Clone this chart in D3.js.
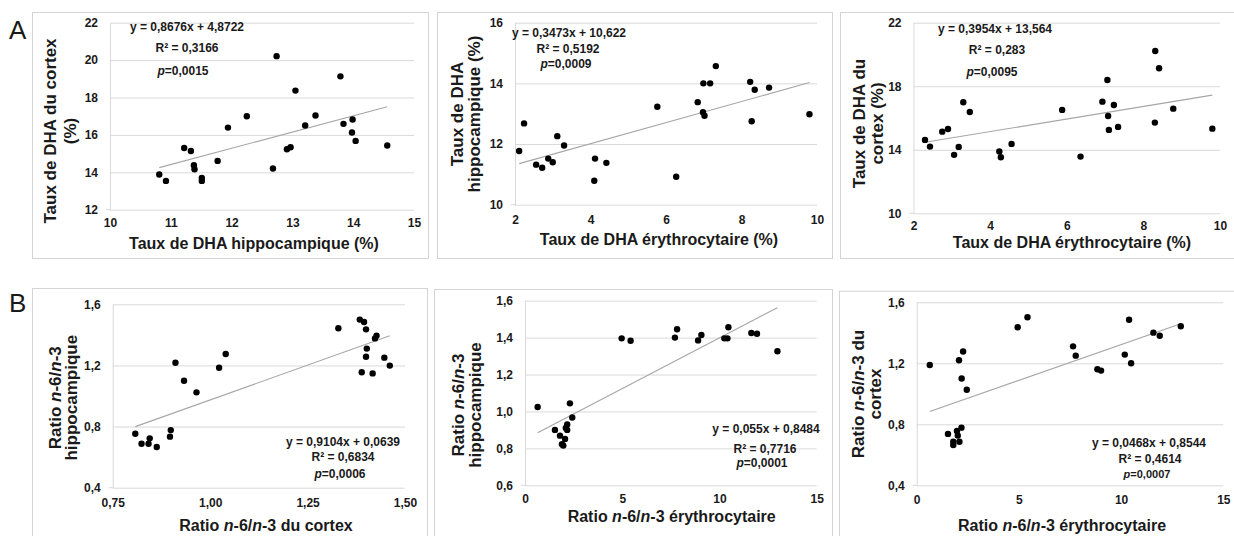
<!DOCTYPE html>
<html>
<head>
<meta charset="utf-8">
<script src="https://cdn.jsdelivr.net/npm/d3@7"></script>
<style>
	body { margin: 0; background: #fff; }
	text { font-family: "Liberation Sans", Arial, sans-serif; fill: #1a1a1a; }
</style>
</head>
<body>
<script>
// --- A : DHA (%) ---
var hippoDHA_A1 = [10.81, 10.92, 11.22, 11.33, 11.38, 11.39, 11.51, 11.51, 11.77, 11.94, 12.25, 12.68,
	12.74, 12.91, 12.97, 13.05, 13.21, 13.38, 13.79, 13.84, 13.99, 13.98, 14.04, 14.56];
var cortexDHA_A1 = [13.88, 13.54, 15.30, 15.14, 14.38, 14.16, 13.70, 13.54, 14.61, 16.39, 17.00, 14.20,
	20.21, 15.23, 15.34, 18.37, 16.50, 17.04, 19.13, 16.59, 16.82, 16.13, 15.68, 15.43];

var eryDHA_A2 = [2.11, 2.24, 2.56, 2.72, 2.88, 3.00, 3.12, 3.30, 4.10, 4.12, 4.42, 5.77,
	6.27, 6.84, 6.98, 7.02, 6.99, 7.17, 7.32, 8.23, 8.35, 8.27, 8.73, 9.80];
var hippoDHA_A2 = [11.77, 12.68, 11.32, 11.22, 11.52, 11.40, 12.26, 11.95, 10.79, 11.52, 11.38, 13.23,
	10.92, 13.38, 13.05, 12.93, 14.00, 14.00, 14.57, 14.05, 13.79, 12.75, 13.86, 12.98];

var eryDHA_A3 = [2.30, 2.43, 2.75, 2.90, 3.06, 3.18, 3.30, 3.47, 4.24, 4.28, 4.56, 5.88,
	6.36, 6.93, 7.06, 7.08, 7.10, 7.23, 7.34, 8.30, 8.31, 8.41, 8.78, 9.80];
var cortexDHA_A3 = [14.62, 14.20, 15.14, 15.31, 13.68, 14.18, 16.99, 16.38, 13.89, 13.53, 14.37, 16.51,
	13.57, 17.03, 18.39, 16.13, 15.25, 16.82, 15.44, 15.71, 20.22, 19.13, 16.59, 15.33];

// --- B : ratio n-6/n-3 ---
var cortexRatio_B1 = [0.808, 0.824, 0.842, 0.845, 0.863, 0.897, 0.899, 0.911, 0.933, 0.965, 1.023, 1.040,
	1.329, 1.384, 1.395, 1.400, 1.389, 1.400, 1.402, 1.423, 1.427, 1.417, 1.447, 1.461];
var hippoRatio_B1 = [0.753, 0.688, 0.688, 0.723, 0.666, 0.734, 0.777, 1.218, 1.100, 1.024, 1.185, 1.275,
	1.443, 1.500, 1.484, 1.436, 1.155, 1.257, 1.310, 1.377, 1.395, 1.148, 1.251, 1.199];

var eryRatio_B2 = [0.65, 1.54, 1.80, 1.90, 1.97, 2.06, 2.10, 2.17, 2.17, 2.31, 2.43,
	4.97, 5.43, 7.71, 7.82, 8.90, 9.07, 10.25, 10.41, 10.46, 11.64, 11.93, 12.98];
var hippoRatio_B2 = [1.024, 0.900, 0.869, 0.822, 0.815, 0.851, 0.910, 0.930, 0.900, 1.044, 0.967,
	1.396, 1.383, 1.400, 1.445, 1.385, 1.414, 1.396, 1.396, 1.456, 1.425, 1.421, 1.326];

var eryRatio_B3 = [0.64, 1.53, 1.79, 1.79, 1.97, 2.01, 2.09, 2.19, 2.07, 2.20, 2.27, 2.45,
	4.94, 5.42, 7.65, 7.78, 8.84, 9.02, 10.18, 10.39, 10.49, 11.58, 11.89, 12.92];
var cortexRatio_B3 = [1.189, 0.737, 0.686, 0.664, 0.756, 0.726, 0.686, 0.778, 1.220, 1.100, 1.277, 1.027,
	1.436, 1.502, 1.311, 1.250, 1.161, 1.152, 1.257, 1.486, 1.200, 1.401, 1.381, 1.443];

// trend lines : y = slope x + intercept
var slopes = [0.8676, 0.3473, 0.3954, 0.9104, 0.055, 0.0468];
var intercepts = [4.8722, 10.622, 13.564, 0.0639, 0.8484, 0.8544];
var r2 = [0.3166, 0.5192, 0.283, 0.6834, 0.7716, 0.4614];
var pValues = [0.0015, 0.0009, 0.0095, 0.0006, 0.0001, 0.0007];

// ticks
var xTicks = [
	[10, 11, 12, 13, 14, 15],
	[2, 4, 6, 8, 10],
	[2, 4, 6, 8, 10],
	[0.75, 1.00, 1.25, 1.50],
	[0, 5, 10, 15],
	[0, 5, 10, 15]
];
var yTicks = [
	[12, 14, 16, 18, 20, 22],
	[10, 12, 14, 16],
	[10, 14, 18, 22],
	[0.4, 0.8, 1.2, 1.6],
	[0.6, 0.8, 1.0, 1.2, 1.4, 1.6],
	[0.4, 0.8, 1.2, 1.6]
];
var xFormats = ["d", "d", "d", ".2f", "d", "d"];
var yFormats = ["d", "d", "d", ".1f", ".1f", ".1f"];

// titles (*...* = italique)
var xTitles = [
	"Taux de DHA hippocampique (%)",
	"Taux de DHA érythrocytaire (%)",
	"Taux de DHA érythrocytaire (%)",
	"Ratio *n*-6/*n*-3 du cortex",
	"Ratio *n*-6/*n*-3 érythrocytaire",
	"Ratio *n*-6/*n*-3 érythrocytaire"
];
var yTitles = [
	["Taux de DHA du cortex", "(%)"],
	["Taux de DHA", "hippocampique (%)"],
	["Taux de DHA du", "cortex (%)"],
	["Ratio *n*-6/*n*-3", "hippocampique"],
	["Ratio *n*-6/*n*-3", "hippocampique"],
	["Ratio *n*-6/*n*-3 du", "cortex"]
];
var panelLetters = ["A", "B"];

// layout only
var layout = [
	{ box: [32, 12, 396, 246], xr: [110, 414], yr: [209.7, 22.7], xPad: 9,
	  eq: [[187, 27], [187, 48], [183, 71]], xt: [254, 248.5], yt: [50.5, 70.5, 131] },
	{ box: [437, 12, 395, 246], xr: [515, 817], yr: [204.7, 22.7], xPad: 11,
	  eq: [[569, 33], [568, 48.5], [566, 64]], xt: [659, 245], yt: [457, 474, 114] },
	{ box: [840, 12, 400, 246], xr: [913.5, 1220], yr: [213.3, 22.7], xPad: 8,
	  eq: [[995, 29], [997, 50], [992, 72]], xt: [1072, 248], yt: [859, 877, 123.5] },
	{ box: [32, 288, 395, 260], xr: [112.7, 405], yr: [487.7, 304.3], xPad: 11,
	  eq: [[343, 441.7], [343, 456.7], [340, 473.3]], xt: [266, 531], yt: [55, 70.7, 397.7] },
	{ box: [434, 289, 398, 260], xr: [525, 816.7], yr: [485.3, 300.7], xPad: 9.5,
	  eq: [[766, 428.3], [765, 448.3], [762, 462.7]], xt: [671.7, 522], yt: [458, 475, 405] },
	{ box: [839, 290.7, 400, 260], xr: [916.7, 1223.3], yr: [485.3, 302.3], xPad: 10.5,
	  eq: [[1149, 443], [1150, 459], [1147, 474]], xt: [1062, 531], yt: [858, 875, 394], pSize: 11 }
];

var series = [
	[hippoDHA_A1, cortexDHA_A1],
	[eryDHA_A2, hippoDHA_A2],
	[eryDHA_A3, cortexDHA_A3],
	[cortexRatio_B1, hippoRatio_B1],
	[eryRatio_B2, hippoRatio_B2],
	[eryRatio_B3, cortexRatio_B3]
];

var frLocale = d3.formatLocale({ decimal: ",", thousands: " ", grouping: [3], currency: ["", " €"] });

function comma(v) {
	return String(v).replace(".", ",");
}

// writes "Ratio *n*-6" as tspans, the starred parts in italic
function richText(sel, str) {
	str.split("*").forEach(function(part, i) {
		if (part === "") return;
		sel.append("tspan")
			.style("font-style", i % 2 ? "italic" : null)
			.text(part);
	});
}

var svg = d3.select("body")
	.append("svg")
	.attr("width", 1234)
	.attr("height", 536);

function drawPanel(i) {
	var L = layout[i];
	var xs = series[i][0], ys = series[i][1];
	var xT = xTicks[i], yT = yTicks[i];
	var g = svg.append("g");

	g.append("rect")
		.attr("x", L.box[0] + 0.5).attr("y", L.box[1] + 0.5)
		.attr("width", L.box[2]).attr("height", L.box[3])
		.attr("fill", "none")
		.attr("stroke", "#d4d4d4");

	var x = d3.scaleLinear().domain([xT[0], xT[xT.length - 1]]).range(L.xr);
	var y = d3.scaleLinear().domain([yT[0], yT[yT.length - 1]]).range(L.yr);
	var w = L.xr[1] - L.xr[0];

	// gridlines + y labels
	var ya = g.append("g")
		.attr("transform", "translate(" + L.xr[0] + ",0)")
		.call(d3.axisLeft(y).tickValues(yT).tickSize(-w).tickSizeOuter(0).tickPadding(12)
			.tickFormat(frLocale.format(yFormats[i])));
	ya.selectAll(".tick line").attr("stroke", "#d9d9d9");
	ya.select(".domain").attr("stroke", "#d9d9d9");
	ya.selectAll("text")
		.attr("fill", "#262626")
		.style("font-size", "12px").style("font-weight", "bold");

	// x axis
	var xa = g.append("g")
		.attr("transform", "translate(0," + L.yr[0] + ")")
		.call(d3.axisBottom(x).tickValues(xT).tickSize(0).tickPadding(L.xPad)
			.tickFormat(frLocale.format(xFormats[i])));
	xa.select(".domain").remove();
	xa.selectAll("text")
		.attr("fill", "#262626")
		.style("font-size", "12px").style("font-weight", "bold");
	g.append("line")
		.attr("x1", L.xr[0] - 4).attr("x2", L.xr[0])
		.attr("y1", L.yr[0]).attr("y2", L.yr[0])
		.attr("stroke", "#d9d9d9");

	// trend line over the data range
	var ext = d3.extent(xs);
	g.append("line")
		.attr("x1", x(ext[0])).attr("y1", y(slopes[i] * ext[0] + intercepts[i]))
		.attr("x2", x(ext[1])).attr("y2", y(slopes[i] * ext[1] + intercepts[i]))
		.attr("stroke", "#a6a6a6")
		.attr("stroke-width", 1.1);

	g.selectAll("circle")
		.data(d3.zip(xs, ys))
		.enter()
		.append("circle")
		.attr("cx", function(d) { return x(d[0]); })
		.attr("cy", function(d) { return y(d[1]); })
		.attr("r", 3.2)
		.attr("fill", "#000");

	// equation
	var eqLines = [
		"y = " + comma(slopes[i]) + "x + " + comma(intercepts[i]),
		"R² = " + comma(r2[i]),
		"*p*=" + comma(pValues[i])
	];
	eqLines.forEach(function(s, k) {
		var t = g.append("text")
			.attr("x", L.eq[k][0]).attr("y", L.eq[k][1] + 4.3)
			.attr("text-anchor", "middle")
			.style("font-size", (k == 2 && L.pSize ? L.pSize : 12) + "px")
			.style("font-weight", "bold");
		richText(t, s);
	});

	// axis titles
	var xt = g.append("text")
		.attr("x", L.xt[0]).attr("y", L.xt[1])
		.attr("text-anchor", "middle")
		.style("font-size", "16px").style("font-weight", "bold");
	richText(xt, xTitles[i]);

	var yt = g.append("text")
		.attr("transform", "translate(" + L.yt[0] + "," + L.yt[2] + ") rotate(-90)")
		.attr("text-anchor", "middle")
		.style("font-size", "17px").style("font-weight", "bold");
	yTitles[i].forEach(function(line, k) {
		var ts = yt.append("tspan")
			.attr("x", 0)
			.attr("y", k * (L.yt[1] - L.yt[0]))
			.attr("dy", "0.35em");
		richText(ts, line);
	});
}

for (var i = 0; i < 6; i++)
	drawPanel(i);

svg.selectAll("text.letter")
	.data(panelLetters)
	.enter()
	.append("text")
	.attr("class", "letter")
	.attr("x", 9)
	.attr("y", function(d, i) { return i ? 312 : 39; })
	.style("font-size", "26px")
	.text(function(d) { return d; });
</script>
</body>
</html>
